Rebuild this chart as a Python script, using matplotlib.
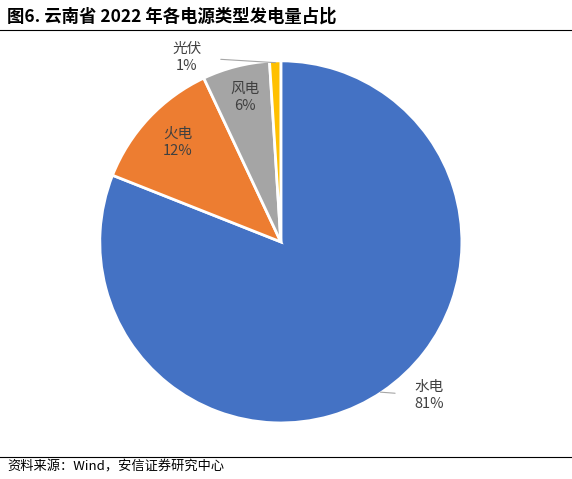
import matplotlib
matplotlib.use("Agg")
import matplotlib.pyplot as plt
from matplotlib.lines import Line2D

plt.rcParams['font.family'] = ['Noto Sans CJK SC', 'DejaVu Sans']

categories = ['水电', '火电', '风电', '光伏']
values = [81, 12, 6, 1]
colors = ['#4472C4', '#ED7D31', '#A5A5A5', '#FFC000']

fig = plt.figure(figsize=(5.72, 4.79), dpi=100)
ax = fig.add_axes([0.491 - 0.3165, 0.495 - 0.378, 0.633, 0.756])
wedges, _ = ax.pie(values, colors=colors, startangle=90, counterclock=False,
                   wedgeprops=dict(edgecolor='white', linewidth=2))
ax.set_xlim(-1, 1); ax.set_ylim(-1, 1)
ax.set_aspect('equal')

lab = [f"{c}\n{v}%" for c, v in zip(categories, values)]
fs = 10.5
tc = '#404040'
ax.annotate(lab[0], xy=(0.55, -0.83), xytext=(0.82, -0.85), ha='center', va='center',
            fontsize=fs, color=tc, linespacing=1.3, annotation_clip=False,
            arrowprops=dict(arrowstyle='-', color='#A6A6A6', lw=0.8, shrinkA=12, shrinkB=0))
ax.text(-0.57, 0.55, lab[1], ha='center', va='center', fontsize=fs, color=tc, linespacing=1.3)
ax.text(-0.20, 0.80, lab[2], ha='center', va='center', fontsize=fs, color=tc, linespacing=1.3)
ax.annotate(lab[3], xy=(-0.03, 0.99), xytext=(-0.52, 1.02), ha='center', va='center',
            fontsize=fs, color=tc, linespacing=1.3, annotation_clip=False,
            arrowprops=dict(arrowstyle='-', color='#A6A6A6', lw=0.8, shrinkA=12, shrinkB=0))

fig.text(0.012, 0.965, '图6. 云南省 2022 年各电源类型发电量占比', fontsize=12.5,
         fontweight='bold', ha='left', va='center', color='black')
fig.add_artist(Line2D([0.0, 1.0], [0.937, 0.937], color='black', lw=0.8, transform=fig.transFigure))
fig.add_artist(Line2D([0.0, 1.0], [0.045, 0.045], color='black', lw=0.8, transform=fig.transFigure))
fig.text(0.012, 0.025, '资料来源：Wind，安信证券研究中心', fontsize=9.5, style='italic',
         ha='left', va='center', color='black')

fig.savefig('out.png', dpi=100)
